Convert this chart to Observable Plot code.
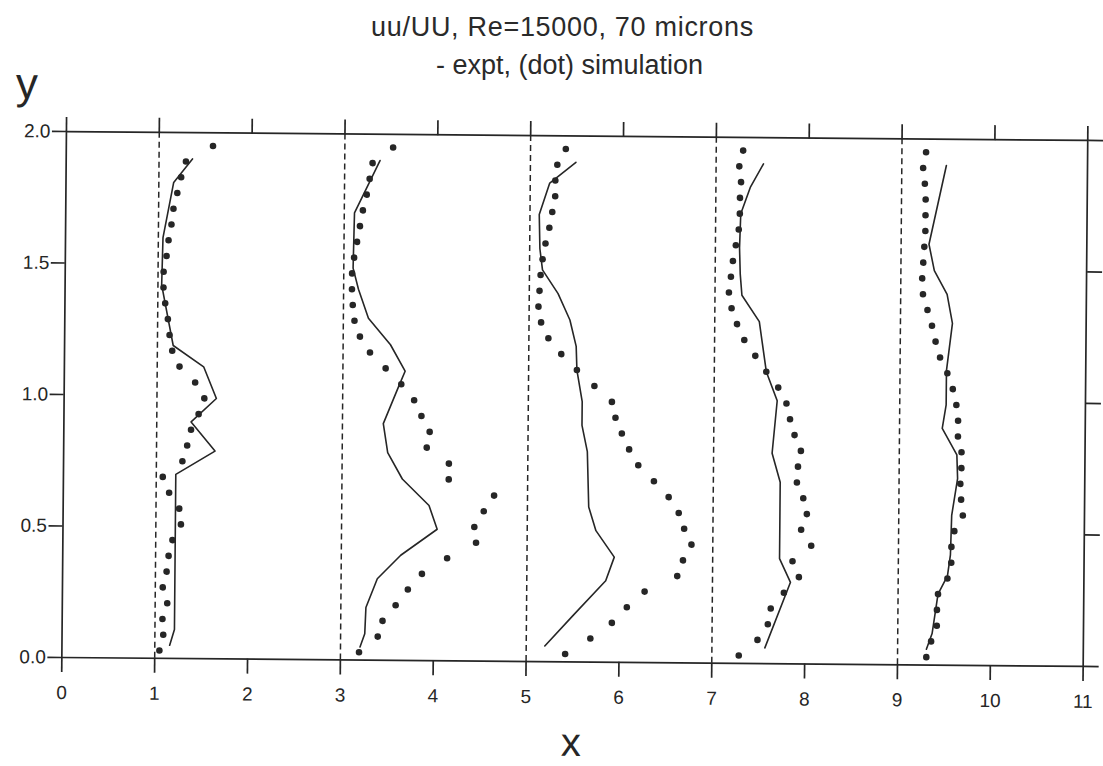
<!DOCTYPE html>
<html>
<head>
<meta charset="utf-8">
<script src="https://cdn.jsdelivr.net/npm/d3@7"></script>
<script src="https://cdn.jsdelivr.net/npm/@observablehq/plot@0.6"></script>
<style>
  html, body { margin: 0; padding: 0; background: #fff; }
  #page { position: relative; width: 1103px; height: 766px; overflow: hidden;
          font-family: "Liberation Sans", Arial, Helvetica, sans-serif; color: #2a2a2a; }
  #head { position: relative; height: 84px; }
  .tl { position: absolute; left: 0; text-align: center; font-size: 27px; line-height: 27px; white-space: nowrap; }
  #t1 { top: 14px; width: 1125px; letter-spacing: 0.7px; }
  #t2 { top: 52px; width: 1139px; }
</style>
</head>
<body>
<div id="page">
  <div id="head">
    <div class="tl" id="t1">uu/UU, Re=15000, 70 microns</div>
    <div class="tl" id="t2">- expt, (dot) simulation</div>
  </div>
  <div id="chart"></div>
</div>
<script>
// Axis ticks and the stations' baselines (dashed verticals)
const xTicks = [0, 1, 2, 3, 4, 5, 6, 7, 8, 9, 10, 11];
const yTicks = [0, 0.5, 1.0, 1.5, 2.0];
const stations = [1, 3, 5, 7, 9];

// Heights of the simulation points (same for every station)
const simY = [0.03, 0.09, 0.15, 0.21, 0.27, 0.33, 0.39, 0.45, 0.51, 0.57, 0.63,
              0.69, 0.75, 0.81, 0.87, 0.93, 0.99, 1.05, 1.11, 1.17, 1.23, 1.29,
              1.35, 1.41, 1.47, 1.53, 1.59, 1.65, 1.71, 1.77, 1.83, 1.89, 1.95];

// Simulation profiles (dots), station baseline + uu/UU
const sim1 = [1.05, 1.09, 1.08, 1.13, 1.08, 1.12, 1.14, 1.18, 1.27, 1.25, 1.14,
              1.07, 1.28, 1.33, 1.37, 1.45, 1.51, 1.41, 1.24, 1.16, 1.13, 1.11,
              1.08, 1.06, 1.06, 1.09, 1.11, 1.14, 1.16, 1.20, 1.24, 1.29, 1.58];
const sim3 = [3.20, 3.40, 3.45, 3.59, 3.72, 3.87, 4.14, 4.45, 4.43, 4.53, 4.64,
              4.15, 4.15, 3.91, 3.94, 3.85, 3.77, 3.63, 3.46, 3.29, 3.18, 3.12,
              3.10, 3.09, 3.09, 3.11, 3.14, 3.17, 3.20, 3.24, 3.27, 3.30, 3.52];
const sim5 = [5.42, 5.69, 5.92, 6.08, 6.27, 6.62, 6.68, 6.77, 6.69, 6.63, 6.52,
              6.36, 6.19, 6.09, 6.01, 5.94, 5.90, 5.71, 5.52, 5.35, 5.21, 5.13,
              5.10, 5.11, 5.12, 5.14, 5.17, 5.21, 5.24, 5.27, 5.27, 5.29, 5.38];
const sim7 = [7.29, 7.49, 7.60, 7.63, 7.77, 7.93, 7.86, 8.06, 7.95, 8.01, 7.97,
              7.90, 7.91, 7.94, 7.87, 7.82, 7.78, 7.69, 7.56, 7.44, 7.32, 7.24,
              7.18, 7.15, 7.17, 7.19, 7.22, 7.25, 7.26, 7.26, 7.27, 7.25, 7.29];
const sim9 = [9.31, 9.36, 9.42, 9.42, 9.43, 9.53, 9.57, 9.57, 9.60, 9.69, 9.67,
              9.66, 9.67, 9.67, 9.63, 9.63, 9.61, 9.57, 9.51, 9.43, 9.38, 9.34,
              9.29, 9.24, 9.23, 9.24, 9.25, 9.26, 9.26, 9.26, 9.25, 9.23, 9.26];

// Experimental profiles (solid lines) as [x, y] vertices, bottom to top
const expt1 = [[1.16, 0.05], [1.21, 0.11], [1.21, 0.70], [1.63, 0.79], [1.37, 0.90],
               [1.64, 0.99], [1.50, 1.11], [1.17, 1.19], [1.04, 1.42], [1.05, 1.60],
               [1.16, 1.81], [1.36, 1.90]];
const expt3 = [[3.21, 0.05], [3.26, 0.10], [3.27, 0.20], [3.39, 0.31], [3.64, 0.40],
               [4.03, 0.50], [3.94, 0.59], [3.65, 0.69], [3.49, 0.79], [3.44, 0.90],
               [3.60, 1.04], [3.67, 1.10], [3.51, 1.20], [3.27, 1.30], [3.16, 1.41],
               [3.10, 1.49], [3.11, 1.70], [3.38, 1.90]];
const expt5 = [[5.20, 0.06], [5.51, 0.18], [5.85, 0.31], [5.94, 0.40], [5.74, 0.50],
               [5.66, 0.59], [5.64, 0.80], [5.58, 0.90], [5.58, 0.99], [5.52, 1.11],
               [5.51, 1.20], [5.44, 1.30], [5.31, 1.40], [5.14, 1.49], [5.11, 1.57],
               [5.10, 1.70], [5.21, 1.82], [5.49, 1.90]];
const expt7 = [[7.57, 0.06], [7.84, 0.31], [7.72, 0.40], [7.72, 0.69], [7.63, 0.80],
               [7.68, 1.00], [7.56, 1.11], [7.48, 1.30], [7.29, 1.40], [7.27, 1.48],
               [7.26, 1.58], [7.27, 1.71], [7.37, 1.81], [7.51, 1.90]];
const expt9 = [[9.31, 0.06], [9.37, 0.12], [9.43, 0.27], [9.53, 0.34], [9.56, 0.42],
               [9.57, 0.57], [9.63, 0.71], [9.62, 0.80], [9.46, 0.90], [9.50, 0.99],
               [9.50, 1.12], [9.56, 1.30], [9.50, 1.41], [9.36, 1.50], [9.30, 1.60],
               [9.48, 1.90]];

const simSeries = [sim1, sim3, sim5, sim7, sim9];
const exptSeries = [expt1, expt3, expt5, expt7, expt9];

const simTable = simSeries.flatMap((xs, i) =>
  xs.map((x, k) => ({station: stations[i], x, y: simY[k]})));
const exptTable = exptSeries.flatMap((pts, i) =>
  pts.map(([x, y]) => ({station: stations[i], x, y})));

const ink = "#262626";
const noLabel = () => "";

const chart = Plot.plot({
  width: 1103,
  height: 682,
  marginLeft: 61.35,
  marginRight: 20.3,
  marginTop: 47,
  marginBottom: 109,
  style: {
    fontFamily: "'Liberation Sans', Arial, Helvetica, sans-serif",
    fontSize: "19px",
    color: ink,
    background: "transparent",
    overflow: "visible"
  },
  x: {domain: [0, 11], axis: null},
  y: {domain: [0, 2], axis: null},
  marks: [
    Plot.ruleX(stations, {stroke: ink, strokeWidth: 1.5, strokeDasharray: "6,4"}),
    Plot.frame({stroke: ink, strokeWidth: 1.7}),
    Plot.axisX({anchor: "bottom", ticks: xTicks, tickSize: 15, tickPadding: 13,
                strokeWidth: 1.7, label: null, fill: ink, fontSize: 19}),
    Plot.axisX({anchor: "top", ticks: xTicks, tickSize: 15, tickFormat: noLabel,
                strokeWidth: 1.7, label: null}),
    Plot.axisY({anchor: "left", ticks: yTicks, tickSize: 14, tickPadding: 2,
                tickFormat: d3.format(".1f"), strokeWidth: 1.7, label: null,
                fill: ink, fontSize: 19}),
    Plot.axisY({anchor: "right", ticks: yTicks, tickSize: 15, tickFormat: noLabel,
                strokeWidth: 1.7, label: null}),
    Plot.line(exptTable, {x: "x", y: "y", z: "station", stroke: ink, strokeWidth: 1.6}),
    Plot.dot(simTable, {x: "x", y: "y", r: 3.3, fill: ink, stroke: "none"}),
    Plot.text(["y"], {frameAnchor: "top-left", text: d => d, textAnchor: "start",
                      lineAnchor: "middle", dx: -51, dy: -47, fontSize: 44, fill: ink}),
    Plot.text(["x"], {frameAnchor: "bottom", text: d => d, textAnchor: "middle",
                      lineAnchor: "middle", dx: -1, dy: 81, fontSize: 40, fill: ink})
  ]
});

// The printed sheet sits slightly askew; turn the drawing about the data origin.
chart.style.transformOrigin = "61.35px 573px";
chart.style.transform = "rotate(0.5deg)";
document.getElementById("chart").appendChild(chart);
</script>
</body>
</html>
